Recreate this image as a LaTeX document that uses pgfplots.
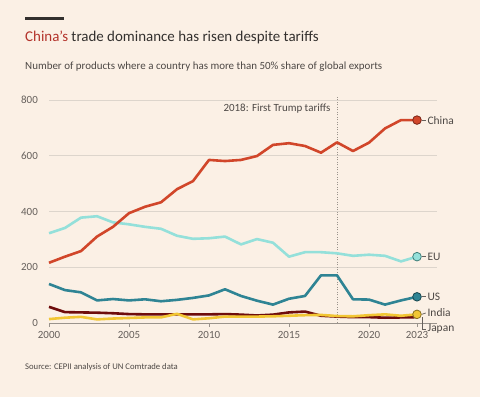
\documentclass[border=0pt]{standalone}
\usepackage{fontspec}
\setmainfont{Carlito}
\usepackage{pgfplots}
\pgfplotsset{compat=1.18}
\definecolor{bg}{HTML}{FBF0E5}
\definecolor{titlec}{HTML}{33302E}
\definecolor{chinared}{HTML}{B3322A}
\definecolor{subc}{HTML}{4D4845}
\definecolor{tickc}{HTML}{66605C}
\definecolor{gridc}{HTML}{DDD5CC}
\definecolor{axisc}{HTML}{9A938C}
\definecolor{china}{HTML}{D1462A}
\definecolor{chinadk}{HTML}{7A2416}
\definecolor{eu}{HTML}{94E0DA}
\definecolor{eudk}{HTML}{3F7F7A}
\definecolor{us}{HTML}{2F8494}
\definecolor{usdk}{HTML}{1A4850}
\definecolor{japan}{HTML}{6E0C0C}
\definecolor{india}{HTML}{F2C634}
\definecolor{indiadk}{HTML}{8A7020}
\definecolor{dotc}{HTML}{9A938C}
\pgfplotstableread{
year china eu us japan india
2000 216 322 140 58 14
2001 238 341 118 39 19
2002 258 378 110 38 22
2003 310 383 81 37 13
2004 345 361 86 35 16
2005 394 354 81 32 18
2006 417 345 85 31 20
2007 433 338 78 31 20
2008 480 313 83 31 33
2009 509 302 90 31 13
2010 585 304 99 31 17
2011 581 310 121 32 23
2012 585 282 97 30 23
2013 599 301 80 27 23
2014 639 288 66 30 24
2015 645 238 87 38 26
2016 635 254 97 41 28
2017 611 254 171 26 29
2018 648 250 171 23 25
2019 617 241 85 21 24
2020 647 245 84 21 28
2021 698 241 66 19 31
2022 728 221 81 20 26
2023 728 238 94 21 31
}\datatable
\begin{document}
\begin{tikzpicture}
\fill[bg] (0bp,0bp) rectangle (480bp,397bp);
\useasboundingbox (0bp,0bp) rectangle (480bp,397bp);
\fill[titlec] (25bp,376.7bp) rectangle (64.3bp,379.7bp);
\node[anchor=base west, inner sep=0, font=\fontsize{15}{18}\selectfont, text=titlec] at (25bp,355.3bp) {\textcolor{chinared}{China’s} trade dominance has risen despite tariffs};
\node[anchor=base west, inner sep=0, font=\fontsize{11}{13}\selectfont, text=subc] at (25bp,327bp) {Number of products where a country has more than 50\% share of global exports};
\node[anchor=base west, inner sep=0, font=\fontsize{8.7}{10}\selectfont, text=subc] at (25bp,27.7bp) {Source: CEPII analysis of UN Comtrade data};
\begin{axis}[at={(49bp,74bp)}, anchor=south west, scale only axis,
  width=388bp, height=223bp,
  xmin=2000, xmax=2024.25, ymin=0, ymax=800,
  enlargelimits=false, clip=false,
  axis x line*=bottom, axis y line*=left,
  y axis line style={draw=none},
  x axis line style={draw=axisc, line width=0.8bp},
  xtick={2000,2005,2010,2015,2020,2023},
  xticklabels={2000,2005,2010,2015,2020,2023},
  ytick={0,200,400,600,800},
  yticklabels={0,200,400,600,800},
  /pgf/number format/assume math mode=true,
  tick label style={font=\fontsize{11}{13}\selectfont, text=tickc},
  yticklabel style={anchor=east, inner sep=0pt, xshift=-7bp},
  xticklabel style={anchor=base, inner sep=0pt, yshift=-11.7bp},
  major tick length=4bp, tick align=outside,
  xtick style={draw=axisc, line width=0.8bp},
  ytick style={draw=none},
  ymajorgrids, grid style={draw=gridc, line width=0.8bp},
]
\addplot[draw=dotc, line width=0.9bp, dash pattern=on 1bp off 1.5bp] coordinates {(2018,0) (2018,814)};
\addplot[draw=japan, line width=2.6bp, line join=round] table[x=year, y=japan] {\datatable};
\addplot[draw=india, line width=2.6bp, line join=round] table[x=year, y=india] {\datatable};
\addplot[draw=eu, line width=2.6bp, line join=round] table[x=year, y=eu] {\datatable};
\addplot[draw=us, line width=2.6bp, line join=round] table[x=year, y=us] {\datatable};
\addplot[draw=china, line width=2.6bp, line join=round] table[x=year, y=china] {\datatable};
\addplot[only marks, mark=*, mark size=4.3bp, mark options={fill=china, draw=chinadk, line width=0.8bp}] coordinates {(2023,728)};
\addplot[only marks, mark=*, mark size=4.3bp, mark options={fill=eu, draw=eudk, line width=0.8bp}] coordinates {(2023,238)};
\addplot[only marks, mark=*, mark size=4.3bp, mark options={fill=us, draw=usdk, line width=0.8bp}] coordinates {(2023,94)};
\addplot[only marks, mark=*, mark size=4.3bp, mark options={fill=india, draw=indiadk, line width=0.8bp}] coordinates {(2023,31)};
\draw[tickc, line width=0.7bp] (axis cs:2023.3,728) -- (axis cs:2023.55,728);
\draw[tickc, line width=0.7bp] (axis cs:2023.3,238) -- (axis cs:2023.55,238);
\draw[tickc, line width=0.7bp] (axis cs:2023.3,94) -- (axis cs:2023.55,94);
\draw[tickc, line width=0.7bp] (axis cs:2023.3,31) -- (axis cs:2023.55,36);
\draw[tickc, line width=0.7bp] (axis cs:2023.32,20) -- (axis cs:2023.32,-21.5) -- (axis cs:2023.55,-21.5);
\node[anchor=base east, inner sep=0, font=\fontsize{11}{13}\selectfont, text=subc] at (axis cs:2017.6,760) {2018: First Trump tariffs};
\node[anchor=west, inner sep=0, font=\fontsize{11.5}{13}\selectfont, text=subc] at (axis cs:2023.65,728) {China};
\node[anchor=west, inner sep=0, font=\fontsize{11.5}{13}\selectfont, text=subc] at (axis cs:2023.65,238) {EU};
\node[anchor=west, inner sep=0, font=\fontsize{11.5}{13}\selectfont, text=subc] at (axis cs:2023.65,93) {US};
\node[anchor=west, inner sep=0, font=\fontsize{11.5}{13}\selectfont, text=subc] at (axis cs:2023.65,36) {India};
\node[anchor=west, inner sep=0, font=\fontsize{11.5}{13}\selectfont, text=subc] at (axis cs:2023.65,-21.5) {Japan};
\end{axis}
\end{tikzpicture}
\end{document}
